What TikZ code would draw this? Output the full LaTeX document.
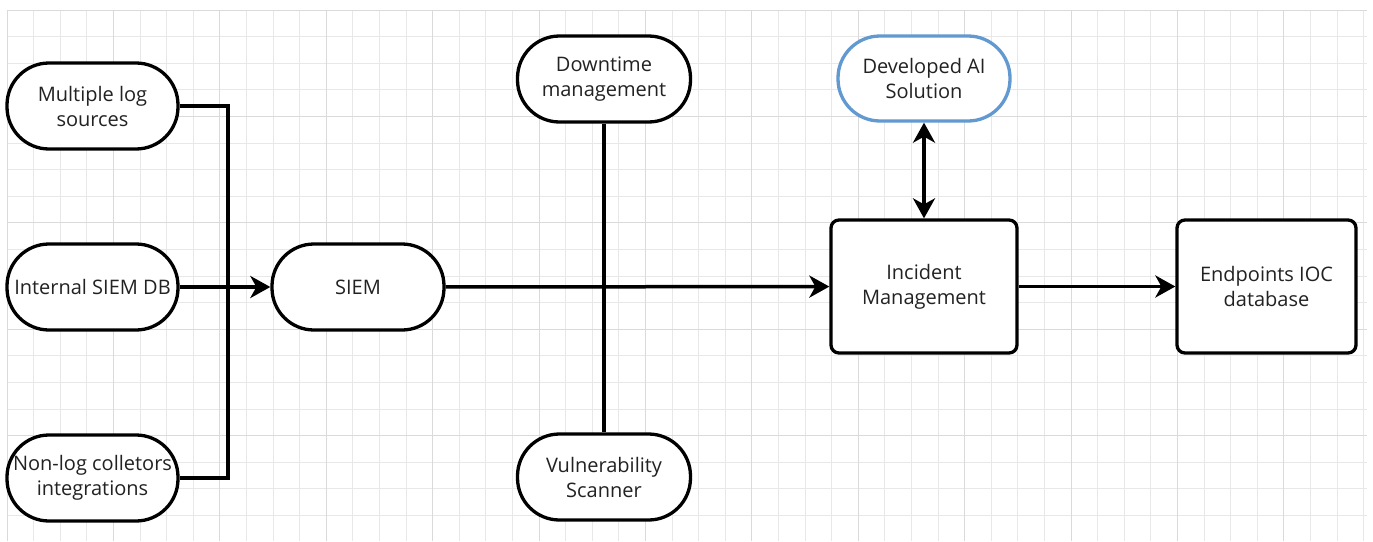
\documentclass[tikz,border=0pt]{standalone}
\usepackage{fontspec}
\setmainfont{Open Sans}
\usetikzlibrary{arrows.meta}
\definecolor{gridminor}{RGB}{232,232,232}
\definecolor{gridmajor}{RGB}{218,218,218}
\definecolor{aiblue}{RGB}{98,153,208}
\definecolor{txt}{RGB}{34,34,34}
\begin{document}
\begin{tikzpicture}[x=1pt,y=-1pt,
  every node/.style={font=\fontsize{20}{25}\selectfont, text=txt, align=center},
  pill/.style={draw=black, line width=3.3pt, rounded corners=42pt, minimum width=171pt, minimum height=86pt, inner sep=0pt, fill=white},
  block/.style={draw=black, line width=3.3pt, rounded corners=8pt, minimum width=186pt, minimum height=133pt, inner sep=0pt, fill=white},
  conn/.style={line width=3.5pt, draw=black},
  tipend/.style={-{Stealth[length=20pt,width=22pt,inset=6pt]}},
  tipboth/.style={{Stealth[length=20pt,width=22pt,inset=6pt]}-{Stealth[length=20pt,width=22pt,inset=6pt]}},
  gmin/.style={draw=gridminor, line width=1pt},
  gmaj/.style={draw=gridmajor, line width=1pt}]
\fill[white] (0,0) rectangle (1373,541);
\useasboundingbox (0,0) rectangle (1373,541);
% grid
\foreach \i in {0,...,51} {\draw[gmin] ({7+26.6*\i},10) -- ({7+26.6*\i},541);}
\foreach \j in {0,...,20} {\draw[gmin] (7,{10+26.6*\j}) -- (1367,{10+26.6*\j});}
\foreach \i in {0,4,...,48} {\draw[gmaj] ({7+26.6*\i},10) -- ({7+26.6*\i},541);}
\foreach \j in {0,4,...,20} {\draw[gmaj] (7,{10+26.6*\j}) -- (1367,{10+26.6*\j});}
% nodes
\node[pill] (ml) at (92.5,106) {Multiple log\\sources};
\node[pill] (isd) at (92.5,287) {Internal SIEM DB};
\node[pill] (nl) at (92.5,478) {Non-log colletors\\integrations};
\node[pill, minimum width=172pt] (siem) at (358,287) {SIEM};
\node[pill, minimum width=173pt] (dt) at (604,79) {Downtime\\management};
\node[pill, minimum width=173pt] (vs) at (604,477) {Vulnerability\\Scanner};
\node[pill, draw=aiblue, minimum width=172pt, minimum height=85pt] (ai) at (924,78.5) {Developed AI\\Solution};
\node[block] (im) at (924,286.5) {Incident\\Management};
\node[block, minimum width=179pt] (ep) at (1266.5,286.5) {Endpoints IOC\\database};
% connectors
\coordinate (j) at (228,287);
\draw[conn] (ml.east) -| (j) |- (nl.east);
\draw[conn, tipend] (isd) -- (siem);
\draw[conn] (dt) -- (vs);
\draw[conn, tipend] (siem) -- (im);
\draw[conn, tipboth] (ai) -- (im);
\draw[conn, tipend] (im) -- (ep);
\end{tikzpicture}
\end{document}
